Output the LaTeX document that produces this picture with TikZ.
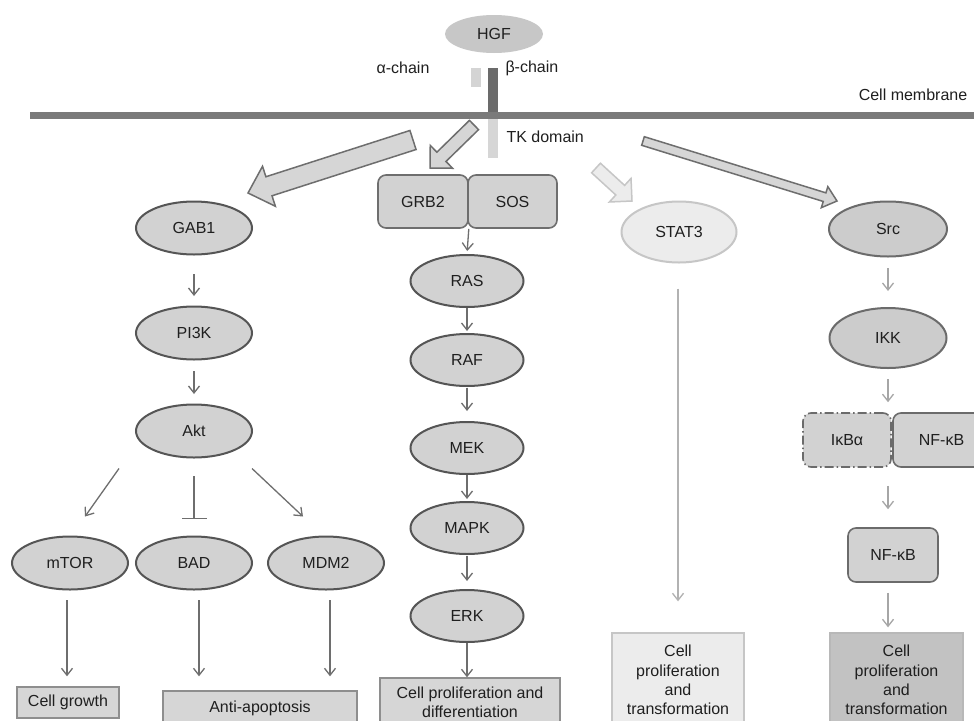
\documentclass[tikz,border=0pt]{standalone}
\usepackage{fontspec}
\setmainfont{Liberation Sans}
\usetikzlibrary{shapes.geometric,arrows.meta,calc}
\definecolor{ellfill}{HTML}{D2D2D2}
\definecolor{elldraw}{HTML}{555555}
\definecolor{memb}{HTML}{7A7A7A}
\definecolor{boxfill}{HTML}{D6D6D6}
\definecolor{boxdraw}{HTML}{8E8E8E}
\definecolor{palefill}{HTML}{ECECEC}
\definecolor{paledraw}{HTML}{C6C6C6}
\definecolor{arrgray}{HTML}{6E6E6E}
\definecolor{lightarr}{HTML}{A6A6A6}
\newcommand\hgfblockarrow[6]{%
  \path ($(#3)!#6!(#2)$) coordinate (hb);
  \draw[#1] ($(#2)!#4!90:(#3)$) -- ($(hb)!#4!90:(#3)$) -- ($(hb)!#5!90:(#3)$)
    -- (#3) -- ($(hb)!#5!-90:(#3)$) -- ($(hb)!#4!-90:(#3)$) -- ($(#2)!#4!-90:(#3)$) -- cycle;
}
\begin{document}
\begin{tikzpicture}[x=1pt,y=-1pt,
  every node/.style={font=\fontsize{16}{19.3}\selectfont, text=black!88},
  ell/.style={ellipse, draw=elldraw, fill=ellfill, line width=2pt, minimum width=116pt, minimum height=53pt, inner sep=0pt},
  rbox/.style={rectangle, rounded corners=8pt, draw=arrgray, fill=ellfill, line width=1.6pt, minimum height=53pt, inner sep=0pt},
  outbox/.style={rectangle, draw=boxdraw, fill=boxfill, line width=1.4pt, inner sep=0pt, align=center},
  arr/.style={draw=arrgray, line width=1.3pt, -{Straight Barb[length=7pt,width=11pt,line width=1.3pt]}},
  larr/.style={arr, draw=lightarr},
  blk/.style={draw=arrgray, fill=boxfill, line width=1.5pt, line join=miter},
]
\clip (0,0) rectangle (974,720);
\fill[white] (0,0) rectangle (974,720);

% receptor
\node[ellipse, fill=ellfill!95!black, minimum width=98pt, minimum height=38pt, inner sep=0pt] (hgf) at (494,34) {HGF};
\node (alab) at (403,68) {α-chain};
\node[anchor=west] (blab) at (502,68) {β-chain};
\fill[black!17] (471,68) rectangle (481,87);
\fill[black!58] (488,68) rectangle (498,116);
\fill[memb] (30,112) rectangle (974,119);
\fill[black!16] (488,119) rectangle (498,158);
\node[anchor=west] (tklab) at (503,137) {TK domain};
\node (cmlab) at (913,95) {Cell membrane};

% block arrows
\coordinate (gabT) at (413,140); \coordinate (gabH) at (248,193);
\hgfblockarrow{blk}{gabT}{gabH}{10pt}{21pt}{22pt}
\coordinate (grbT) at (474,125); \coordinate (grbH) at (430,168);
\hgfblockarrow{blk}{grbT}{grbH}{6.5pt}{16pt}{16pt}
\coordinate (stT) at (596,168); \coordinate (stH) at (632,201);
\hgfblockarrow{draw=paledraw, fill=palefill, line width=1.5pt}{stT}{stH}{6.5pt}{16pt}{16pt}
\coordinate (srT) at (643,141); \coordinate (srH) at (837,201);
\hgfblockarrow{blk}{srT}{srH}{4.5pt}{11pt}{13pt}

% left column
\node[ell] (gab1) at (194,228) {GAB1};
\node[ell] (pi3k) at (194,333) {PI3K};
\node[ell] (akt) at (194,431) {Akt};
\node[ell] (mtor) at (70,563) {mTOR};
\node[ell] (bad) at (194,563) {BAD};
\node[ell] (mdm2) at (326,563) {MDM2};
\node[outbox, minimum width=102pt, minimum height=31pt] (growth) at (68,702.5) {Cell growth};
\node[outbox, minimum width=194pt, minimum height=34pt] (anti) at (260,708) {Anti-apoptosis};

\draw[arr, shorten <=18.5pt, shorten >=9.5pt] (gab1.south) -- (pi3k.north);
\draw[arr, shorten <=10.5pt, shorten >=9.5pt] (pi3k.south) -- (akt.north);
\draw[arr] ($(akt.south)+(-75,10)$) -- ($(mtor.north)+(15,-19)$);
\draw[draw=arrgray, line width=1.3pt, -{Bar[width=25pt,line width=1.3pt]}, shorten <=17.5pt, shorten >=16.5pt] (akt.south) -- (bad.north);
\draw[arr] ($(akt.south)+(58,10)$) -- ($(mdm2.north)+(-23,-19)$);
\coordinate (mtx) at ($(mtor.south)+(-3,0)$);
\draw[arr, shorten <=9.5pt, shorten >=10pt] (mtx) -- (mtx |- growth.north);
\coordinate (bdx) at ($(bad.south)+(5,0)$);
\draw[arr, shorten <=9.5pt, shorten >=14pt] (bdx) -- (bdx |- anti.north);
\coordinate (mdx) at ($(mdm2.south)+(4,0)$);
\draw[arr, shorten <=9.5pt, shorten >=14pt] (mdx) -- (mdx |- anti.north);

% centre column
\node[rbox, minimum width=90pt] (grb2) at (423,201.5) {GRB2};
\node[rbox, minimum width=89pt] (sos) at (512.5,201.5) {SOS};
\node[ell, minimum width=113pt, minimum height=52pt] (ras) at (467,281) {RAS};
\node[ell, minimum width=113pt, minimum height=52pt] (raf) at (467,360) {RAF};
\node[ell, minimum width=113pt, minimum height=52pt] (mek) at (467,448) {MEK};
\node[ell, minimum width=113pt, minimum height=52pt] (mapk) at (467,528) {MAPK};
\node[ell, minimum width=113pt, minimum height=52pt] (erk) at (467,616) {ERK};
\node[outbox, minimum width=180pt, minimum height=48pt] (cpd) at (470,702) {Cell proliferation and\\differentiation};

\draw[arr, shorten >=3pt] (grb2.south east) -- (ras.north);
\draw[arr, shorten >=2pt] (ras.south) -- (raf.north);
\draw[arr, shorten <=1pt, shorten >=10pt] (raf.south) -- (mek.north);
\draw[arr, shorten >=2pt] (mek.south) -- (mapk.north);
\draw[arr, shorten <=1pt, shorten >=8pt] (mapk.south) -- (erk.north);
\draw[arr] (erk.south) -- (erk.south |- cpd.north);

% STAT3
\node[ell, draw=paledraw, fill=palefill, minimum width=115pt, minimum height=61pt] (stat3) at (679,232) {STAT3};
\node[outbox, draw=paledraw, fill=palefill, minimum width=132pt, minimum height=94pt] (sbox) at (678,680) {Cell\\proliferation\\and\\transformation};
\draw[draw=paledraw!90!black, line width=1.3pt, -{Straight Barb[length=7pt,width=11pt,line width=1.3pt]}, shorten <=25pt, shorten >=31pt] (stat3.south -| sbox.north) -- (sbox.north);

% Src column
\node[ell, draw=black!58, fill=ellfill!97!black, minimum width=118pt, minimum height=55pt] (src) at (888,229) {Src};
\node[ell, draw=black!58, fill=ellfill!97!black, minimum width=117pt, minimum height=60pt] (ikk) at (888,338) {IKK};
\node[rbox, draw=black!58, dash pattern=on 9pt off 3pt on 1.5pt off 3pt, minimum width=88pt, minimum height=54pt] (ikba) at (847,440) {IκBα};
\node[rbox, draw=black!58, minimum width=97pt, minimum height=54pt] (nfkb1) at (941.5,440) {NF-κB};
\node[rbox, draw=black!58, minimum width=90pt, minimum height=54pt] (nfkb2) at (893,555) {NF-κB};
\node[outbox, draw=black!28, fill=black!24, minimum width=133pt, minimum height=94pt] (rbox2) at (896.5,680) {Cell\\proliferation\\and\\transformation};

\draw[larr, shorten <=10.5pt, shorten >=16pt] (src.south) -- (ikk.north);
\draw[larr, shorten <=10pt, shorten >=10pt] (ikk.south) -- (ikk.south |- ikba.north);
\coordinate (cxb) at (ikk.south |- ikba.south);
\draw[larr, shorten <=18pt, shorten >=18pt] (cxb) -- (cxb |- nfkb2.north);
\coordinate (nfx) at ($(nfkb2.south)+(-5,0)$);
\draw[larr, shorten <=10pt, shorten >=5pt] (nfx) -- (nfx |- rbox2.north);
\end{tikzpicture}
\end{document}
